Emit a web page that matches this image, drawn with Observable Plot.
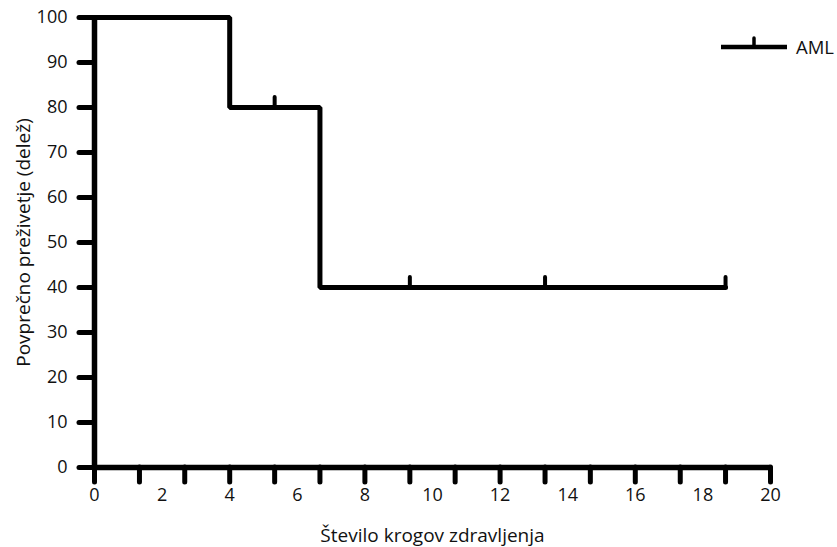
<!DOCTYPE html>
<html><head><meta charset="utf-8">
<script src="https://cdn.jsdelivr.net/npm/d3@7"></script>
<script src="https://cdn.jsdelivr.net/npm/@observablehq/plot@0.6"></script>
<style>
body{margin:0;background:#fff;font-family:"Open Sans",sans-serif}
#c{position:relative;width:837px;height:547px}
#c svg text{font-family:"Open Sans",sans-serif;fill:#111}
#c svg g[aria-label="x-axis label"] text,#c svg g[aria-label="y-axis label"] text{font-size:19px}
#legend{position:absolute;left:719px;top:33px;display:flex;align-items:center;font:18.5px "Open Sans",sans-serif;color:#111}
#legend span{margin-left:7px}
</style>
</head><body><div id="c"></div>
<script>
const seriesName = "AML";
const stepX = [0, 4, 6.67, 18.67];
const stepY = [100, 80, 40, 40];
const censorX = [5.33, 9.33, 13.33, 18.67];
const censorY = [80, 40, 40, 40];
const xLabelTicks = [0, 2, 4, 6, 8, 10, 12, 14, 16, 18, 20];
const xMarkTicks = [0, 1.33, 2.67, 4, 5.33, 6.67, 8, 9.33, 10.67, 12, 13.33, 14.67, 16, 17.33, 18.67, 20];
const yTicks = [0, 10, 20, 30, 40, 50, 60, 70, 80, 90, 100];
const xTitle = "Število krogov zdravljenja";
const yTitle = "Povprečno preživetje (delež)";

const steps = stepX.map((x, i) => ({x, y: stepY[i]}));
const censors = censorX.map((x, i) => ({x, y: censorY[i]}));

const chart = Plot.plot({
  width: 837,
  height: 547,
  marginLeft: 94,
  marginRight: 67,
  marginTop: 17,
  marginBottom: 80,
  style: {fontFamily: "'Open Sans', sans-serif", fontSize: "18px", color: "#111", background: "#fff"},
  x: {domain: [0, 20]},
  y: {domain: [0, 100]},
  marks: [
    Plot.axisX(xMarkTicks, {tickSize: 15, strokeWidth: 5, strokeLinecap: "round", text: null, label: null, stroke: "#000"}),
    Plot.axisX(xLabelTicks, {tickSize: 0, tickPadding: 21, fontSize: 18, label: xTitle, labelAnchor: "center", labelArrow: "none", labelOffset: 74}),
    Plot.axisY(yTicks, {tickSize: 15, tickPadding: 12, fontSize: 18, strokeWidth: 5, strokeLinecap: "round", stroke: "#000", label: yTitle, labelAnchor: "center", labelArrow: "none", labelOffset: 78}),
    Plot.ruleY([0], {strokeWidth: 5.5, stroke: "#000"}),
    Plot.ruleX([0], {strokeWidth: 5.5, stroke: "#000"}),
    Plot.line(steps, {x: "x", y: "y", curve: "step-after", stroke: "#000", strokeWidth: 5, strokeLinejoin: "miter", strokeLinecap: "round"}),
    Plot.ruleX(censors, {x: "x", y1: "y", y2: d => d.y + 2.2, stroke: "#000", strokeWidth: 4, strokeLinecap: "round"})
  ]
});
document.getElementById("c").appendChild(chart);

const legend = document.createElement("div");
legend.id = "legend";
legend.innerHTML = `<svg width="70" height="26"><line x1="2" y1="14" x2="68" y2="14" stroke="#000" stroke-width="4.5"/><line x1="35" y1="14" x2="35" y2="5" stroke="#000" stroke-width="3.5" stroke-linecap="round"/></svg><span></span>`;
legend.querySelector("span").textContent = seriesName;
document.getElementById("c").appendChild(legend);
</script>
</body></html>
